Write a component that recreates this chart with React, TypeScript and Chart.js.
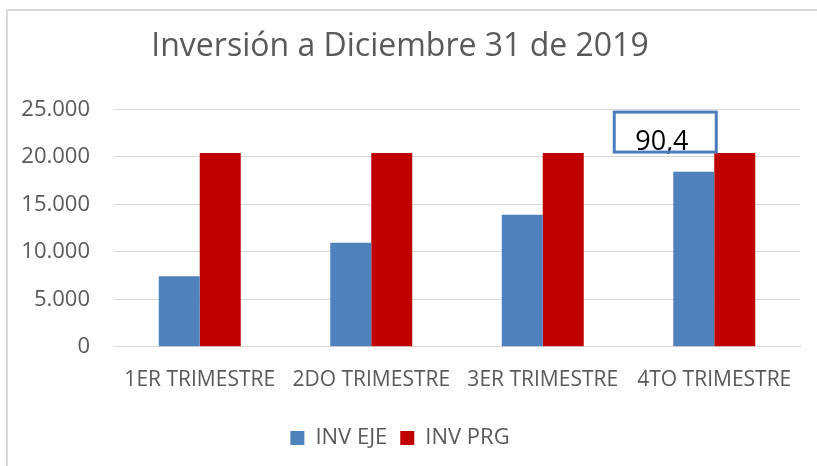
import React, { useEffect, useRef } from "react";
import { Chart, registerables } from "chart.js";

Chart.register(...registerables);

const categories = ["1ER TRIMESTRE", "2DO TRIMESTRE", "3ER TRIMESTRE", "4TO TRIMESTRE"];
const invEje = [7440, 10960, 13900, 18440];
const invPrg = [20400, 20400, 20400, 20400];
const seriesNames = ["INV EJE", "INV PRG"];
const titleText = "Inversión a Diciembre 31 de 2019";
const calloutText = "90,4";
const calloutIndex = 3;

const FONT = "'Open Sans', sans-serif";
const GRAY = "#595959";

const calloutPlugin = {
  id: "callout",
  afterDatasetsDraw(chart: any) {
    const ctx = chart.ctx;
    const xs = chart.scales.x;
    const ys = chart.scales.y;
    const right = xs.getPixelForValue(calloutIndex) + 2;
    const bottom = ys.getPixelForValue(invPrg[calloutIndex]) - 1;
    const w = 102;
    const h = 40;
    const left = right - w;
    const top = bottom - h;
    ctx.save();
    ctx.fillStyle = "#ffffff";
    ctx.fillRect(left, top, w, h);
    ctx.font = `27px ${FONT}`;
    ctx.fillStyle = "#000000";
    ctx.textBaseline = "alphabetic";
    ctx.textAlign = "left";
    ctx.fillText(calloutText, left + 21, bottom - 2);
    ctx.lineWidth = 3;
    ctx.strokeStyle = "#4A7EBB";
    ctx.strokeRect(left, top, w, h);
    ctx.restore();
  },
};

export default function App() {
  const ref = useRef<HTMLCanvasElement>(null);
  useEffect(() => {
    const chart = new Chart(ref.current!, {
      type: "bar",
      data: {
        labels: categories,
        datasets: [
          { label: seriesNames[0], data: invEje, backgroundColor: "#4F81BD" },
          { label: seriesNames[1], data: invPrg, backgroundColor: "#C00000" },
        ],
      },
      options: {
        animation: false,
        responsive: false,
        maintainAspectRatio: false,
        layout: { padding: { left: 0, right: 17, top: 0, bottom: 7 } },
        datasets: { bar: { barPercentage: 1, categoryPercentage: 0.478 } },
        scales: {
          x: {
            grid: { display: false, drawTicks: false },
            border: { display: true, color: "#d9d9d9", width: 1 },
            ticks: { color: GRAY, font: { family: FONT, size: 21 }, padding: 21, maxRotation: 0 },
          },
          y: {
            min: 0,
            max: 25000,
            afterFit(scale: any) {
              scale.width = 114;
            },
            grid: { color: "#d9d9d9", lineWidth: 1, drawTicks: false },
            border: { display: false },
            ticks: {
              stepSize: 5000,
              color: GRAY,
              padding: 24,
              font: { family: FONT, size: 22 },
              callback: (v: any) => (v === 0 ? "0" : Number(v).toLocaleString("de-DE")),
            },
          },
        },
        plugins: {
          title: {
            display: true,
            text: titleText,
            color: GRAY,
            font: { family: FONT, size: 32, weight: "normal" },
            padding: { top: 28, bottom: 43 },
          },
          legend: {
            position: "bottom",
            labels: {
              color: GRAY,
              font: { family: FONT, size: 22 },
              boxWidth: 14,
              boxHeight: 14,
              padding: 13,
            },
          },
          tooltip: { enabled: false },
        },
      },
      plugins: [calloutPlugin],
    });
    return () => chart.destroy();
  }, []);
  return (
    <div style={{ position: "absolute", left: 0, top: 0, width: 817, height: 466, background: "#fff" }}>
      <canvas ref={ref} width={817} height={466} style={{ position: "absolute", left: 0, top: 0 }} />
      <div
        style={{
          position: "absolute",
          left: 6,
          top: 9,
          width: 830,
          height: 480,
          borderLeft: "2px solid #d9d9d9",
          borderTop: "2px solid #d9d9d9",
          pointerEvents: "none",
        }}
      />
    </div>
  );
}
